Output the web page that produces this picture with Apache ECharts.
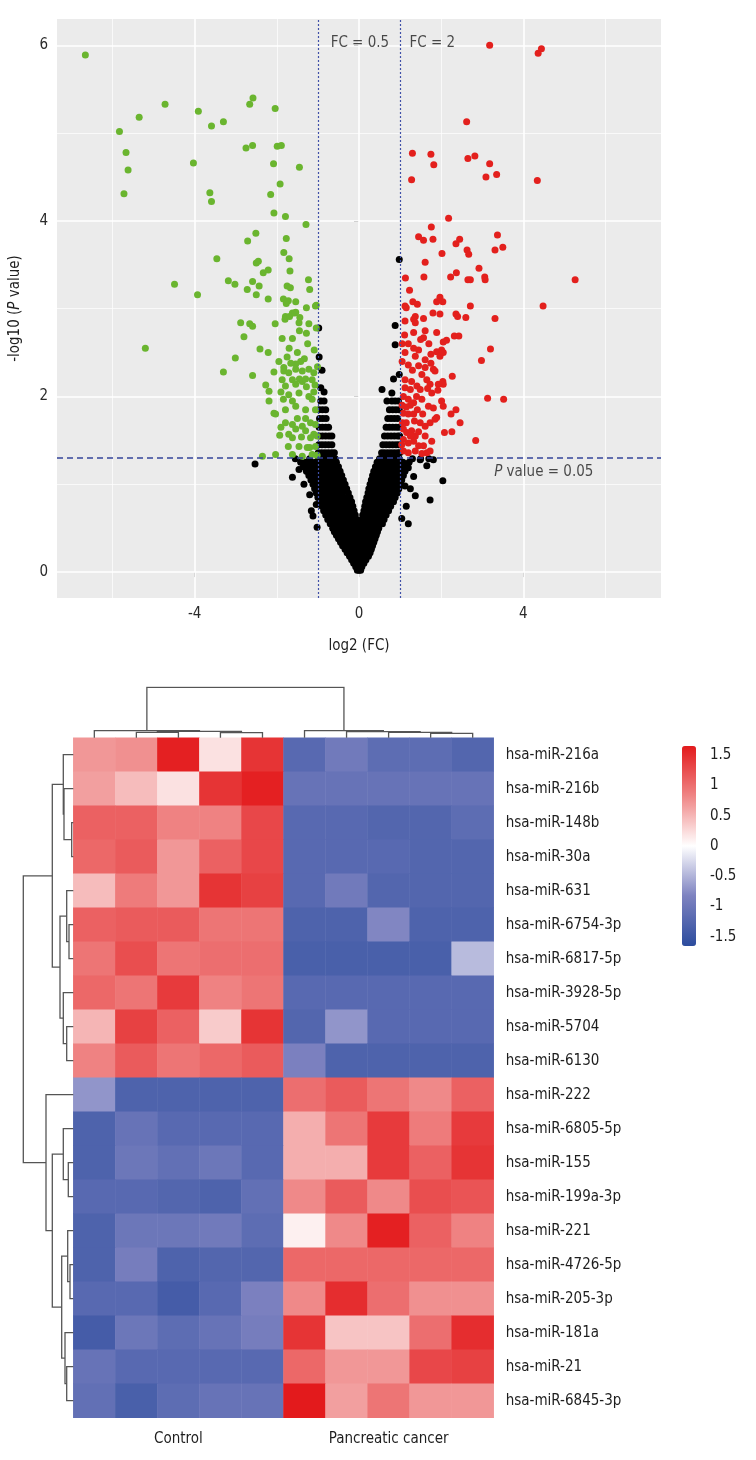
<!DOCTYPE html>
<html>
<head>
<meta charset="utf-8">
<script src="https://cdn.jsdelivr.net/npm/echarts@6/dist/echarts.min.js"></script>
<style>html,body{margin:0;padding:0;background:#fff}#c{width:756px;height:1460px}</style>
</head>
<body>
<div id="c"></div>
<script>
// ---------------- DATA ----------------
// Volcano plot: [log2(FC), -log10(P)]
const downPoints = [[-6.66,5.89],[-4.72,5.33],[-5.35,5.18],[-5.83,5.02],[-5.67,4.78],[-5.62,4.58],[-5.72,4.31],[-3.91,5.25],[-3.59,5.08],[-3.30,5.13],[-2.58,5.40],[-2.66,5.33],[-2.04,5.28],[-4.03,4.66],[-2.75,4.83],[-2.59,4.86],[-1.99,4.85],[-1.89,4.86],[-2.08,4.65],[-1.45,4.61],[-1.92,4.42],[-3.63,4.32],[-3.59,4.22],[-2.15,4.30],[-2.07,4.09],[-1.79,4.05],[-1.29,3.96],[-2.51,3.86],[-2.71,3.77],[-1.77,3.80],[-3.46,3.57],[-1.83,3.64],[-1.70,3.57],[-2.50,3.52],[-2.45,3.54],[-1.68,3.43],[-2.33,3.41],[-2.21,3.44],[-4.49,3.28],[-3.18,3.32],[-3.02,3.28],[-2.59,3.31],[-2.72,3.22],[-2.43,3.26],[-1.75,3.26],[-1.67,3.24],[-1.23,3.33],[-1.20,3.22],[-2.50,3.16],[-3.93,3.16],[-2.21,3.11],[-1.84,3.11],[-1.72,3.09],[-1.77,3.06],[-1.54,3.08],[-1.28,3.01],[-1.04,3.04],[-1.62,2.95],[-1.54,2.96],[-1.79,2.91],[-1.44,2.90],
[-2.88,2.84],[-2.66,2.83],[-2.59,2.80],[-2.04,2.83],[-1.80,2.88],[-1.69,2.91],[-1.56,2.95],[-1.46,2.84],[-1.22,2.83],[-1.06,3.03],[-1.04,2.78],[-2.80,2.68],[-1.87,2.66],[-1.62,2.66],[-1.28,2.72],[-5.20,2.55],[-2.41,2.54],[-2.21,2.50],[-1.09,2.53],[-3.01,2.44],[-1.33,2.43],[-1.42,2.40],[-1.54,2.37],[-3.30,2.28],[-2.59,2.24],[-2.07,2.28],[-1.83,2.33],[-1.66,2.38],[-1.83,2.29],[-1.71,2.27],[-1.54,2.31],[-1.38,2.29],[-1.22,2.31],[-1.10,2.27],[-1.01,2.34],[-1.87,2.19],[-1.62,2.19],[-1.38,2.17],[-1.14,2.19],[-2.27,2.13],[-2.19,2.06],[-1.79,2.12],[-1.54,2.14],[-1.28,2.11],[-1.07,2.13],[-1.71,2.02],[-1.46,2.04],[-1.22,2.00],[-2.19,1.95],[-1.84,1.97],[-1.62,1.95],[-1.14,1.97],[-2.07,1.81],[-1.79,1.85],[-1.54,1.89],[-1.30,1.85],[-1.06,1.85],[-2.03,1.80],[-1.79,1.70],[-1.62,1.68],[-1.38,1.66],[-1.06,1.68],[-1.18,1.70],[-1.93,1.56],[-1.71,1.57],[-1.54,1.63],[-1.30,1.61],[-1.10,1.57],[-1.62,1.53],[-1.40,1.54],[-1.18,1.53],[-1.02,1.55],[-1.72,1.43],[-1.46,1.43],[-1.26,1.42],[-1.06,1.43],[-2.35,1.32],[-2.03,1.34],[-1.62,1.34],[-1.38,1.32],[-1.14,1.34],[-1.02,1.33],
[-1.50,2.50],[-1.70,2.55],[-1.95,2.40],[-1.25,2.60],[-1.45,2.75],[-1.90,2.05],[-1.50,1.75],[-1.30,1.75],[-1.20,1.42],[-1.90,1.65],[-1.45,2.20],[-1.75,2.45],[-1.10,2.05],[-1.30,2.20]];

const upPoints = [[3.18,6.00],[4.44,5.96],[4.36,5.91],[2.62,5.13],[1.30,4.77],[1.75,4.76],[1.82,4.64],[1.28,4.47],[2.65,4.71],[2.82,4.74],[3.18,4.65],[3.09,4.50],[3.35,4.53],[4.34,4.46],[2.18,4.03],[1.76,3.93],[1.45,3.82],[1.57,3.78],[1.80,3.79],[2.45,3.79],[2.36,3.74],[3.37,3.84],[3.50,3.70],[3.31,3.67],[2.63,3.67],[2.67,3.62],[2.02,3.63],[1.61,3.53],[2.92,3.46],[1.13,3.35],[1.58,3.36],[2.23,3.36],[2.37,3.41],[2.65,3.33],[2.71,3.33],[3.06,3.36],[3.07,3.33],[5.26,3.33],[1.23,3.21],[1.31,3.08],[1.42,3.05],[1.89,3.08],[1.97,3.13],[2.04,3.08],[1.12,3.03],[1.15,3.01],[2.71,3.03],[4.48,3.03],[1.37,2.91],[1.57,2.89],[1.97,2.94],[2.36,2.94],[2.40,2.91],[2.60,2.90],[3.31,2.89],
[1.12,2.86],[1.33,2.88],[1.37,2.84],[1.11,2.70],[1.33,2.73],[1.61,2.75],[1.89,2.73],[1.57,2.67],[2.05,2.62],[2.13,2.64],[2.32,2.69],[2.43,2.69],[1.12,2.50],[1.33,2.55],[1.45,2.53],[1.37,2.46],[1.75,2.48],[1.89,2.51],[2.01,2.53],[1.97,2.46],[2.05,2.50],[3.20,2.54],[2.98,2.41],[1.20,2.36],[1.61,2.42],[1.75,2.38],[1.81,2.31],[1.61,2.33],[2.27,2.23],[2.04,2.17],[1.93,2.14],[2.05,2.14],[1.12,2.19],[1.28,2.17],[1.41,2.12],[1.53,2.25],[1.65,2.19],[1.73,2.14],[1.85,2.29],[1.12,2.10],[1.25,2.08],[1.49,2.08],[1.67,2.09],[1.77,2.04],[1.92,2.07],[3.13,1.98],[3.52,1.97],[1.08,2.00],[1.20,1.97],[1.33,1.93],[1.53,1.97],[1.69,1.89],[1.81,1.87],[2.01,1.95],[2.05,1.89],[2.36,1.85],[2.24,1.80],[2.46,1.70],[1.89,1.76],[1.08,1.81],[1.20,1.80],[1.33,1.80],[1.49,1.70],[1.61,1.66],[1.73,1.70],[1.85,1.74],[2.08,1.59],[2.26,1.60],[2.84,1.50],[1.08,1.63],[1.16,1.59],[1.28,1.61],[1.37,1.55],[1.61,1.55],[1.08,1.51],[1.20,1.47],[1.33,1.49],[1.45,1.44],[1.57,1.44],[1.77,1.49],[1.65,1.36],[1.73,1.38],[1.08,1.38],[1.20,1.36],[1.37,1.38],[1.53,1.35],
[1.05,2.40],[1.05,2.60],[1.06,1.70],[1.05,1.90],[1.04,1.45],[1.15,1.70],[1.25,1.90],[1.40,2.00],[1.30,2.30],[1.45,2.35],[1.25,1.55],[1.45,1.60],[1.55,1.80],[1.20,2.60],[1.50,2.65],[1.70,2.60],[1.80,2.95],[1.35,1.72],[1.15,1.88],[1.42,1.85]];

// Non-significant points, listed row by row: [-log10(P), [log2(FC) values...]]
const nsRows = [
  [0.02, [-0.04, 0, 0.04]],
  [0.06, [-0.08, -0.03, 0.02, 0.07]],
  [0.10, [-0.13, -0.08, -0.03, 0.02, 0.07, 0.12]],
  [0.14, [-0.18, -0.12, -0.06, 0, 0.06, 0.12, 0.17]],
  [0.18, [-0.23, -0.17, -0.11, -0.05, 0.01, 0.07, 0.13, 0.19, 0.23]],
  [0.22, [-0.29, -0.22, -0.15, -0.08, -0.01, 0.06, 0.13, 0.20, 0.27]],
  [0.26, [-0.34, -0.27, -0.20, -0.13, -0.06, 0.01, 0.08, 0.15, 0.22, 0.30]],
  [0.30, [-0.40, -0.32, -0.24, -0.16, -0.08, 0, 0.08, 0.16, 0.24, 0.33]],
  [0.34, [-0.45, -0.37, -0.29, -0.21, -0.13, -0.05, 0.03, 0.11, 0.19, 0.27, 0.36]],
  [0.38, [-0.50, -0.42, -0.34, -0.26, -0.18, -0.10, -0.02, 0.06, 0.14, 0.22, 0.30, 0.39]],
  [0.42, [-0.55, -0.47, -0.39, -0.31, -0.23, -0.15, -0.07, 0.01, 0.09, 0.17, 0.25, 0.33, 0.42]],
  [0.46, [-0.60, -0.52, -0.44, -0.36, -0.28, -0.20, -0.12, -0.04, 0.04, 0.12, 0.20, 0.28, 0.36, 0.45]],
  [0.50, [-0.64, -0.56, -0.48, -0.40, -0.32, -0.24, -0.16, -0.08, 0, 0.08, 0.16, 0.24, 0.32, 0.40, 0.48]],
  [0.55, [-0.70, -0.61, -0.52, -0.43, -0.34, -0.25, -0.16, -0.07, 0.05, 0.14, 0.23, 0.32, 0.41, 0.50, 0.57]],
  [0.60, [-0.76, -0.67, -0.58, -0.49, -0.40, -0.31, -0.22, -0.13, -0.06, 0.07, 0.16, 0.25, 0.34, 0.43, 0.52, 0.61]],
  [0.65, [-0.81, -0.72, -0.63, -0.54, -0.45, -0.36, -0.27, -0.18, -0.09, 0.09, 0.18, 0.27, 0.36, 0.45, 0.54, 0.63, 0.66]],
  [0.70, [-0.86, -0.77, -0.68, -0.59, -0.50, -0.41, -0.32, -0.23, -0.12, 0.12, 0.21, 0.30, 0.39, 0.48, 0.57, 0.66, 0.72]],
  [0.75, [-0.90, -0.81, -0.72, -0.63, -0.54, -0.45, -0.36, -0.27, -0.15, 0.14, 0.23, 0.32, 0.41, 0.50, 0.59, 0.68, 0.77]],
  [0.80, [-0.95, -0.86, -0.77, -0.68, -0.59, -0.50, -0.41, -0.32, -0.18, 0.16, 0.25, 0.34, 0.43, 0.52, 0.61, 0.70, 0.79, 0.84]],
  [0.85, [-1.00, -0.91, -0.82, -0.73, -0.64, -0.55, -0.46, -0.37, -0.22, 0.19, 0.28, 0.37, 0.46, 0.55, 0.64, 0.73, 0.82, 0.88]],
  [0.90, [-1.04, -0.95, -0.86, -0.77, -0.68, -0.59, -0.50, -0.40, -0.26, 0.22, 0.31, 0.40, 0.49, 0.58, 0.67, 0.76, 0.85, 0.93]],
  [0.95, [-1.08, -0.99, -0.90, -0.81, -0.72, -0.63, -0.54, -0.44, -0.30, 0.24, 0.33, 0.42, 0.51, 0.60, 0.69, 0.78, 0.87, 0.97]],
  [1.00, [-1.12, -1.03, -0.94, -0.85, -0.76, -0.67, -0.58, -0.48, -0.34, 0.27, 0.36, 0.45, 0.54, 0.63, 0.72, 0.81, 0.90, 1.00]],
  [1.05, [-1.17, -1.08, -0.99, -0.90, -0.81, -0.72, -0.63, -0.52, -0.38, 0.30, 0.39, 0.48, 0.57, 0.66, 0.75, 0.84, 0.93, 1.04]],
  [1.10, [-1.22, -1.13, -1.04, -0.95, -0.86, -0.77, -0.68, -0.56, -0.42, 0.33, 0.42, 0.51, 0.60, 0.69, 0.78, 0.87, 0.96, 1.08]],
  [1.15, [-1.28, -1.18, -1.08, -0.99, -0.90, -0.81, -0.72, -0.60, -0.46, 0.36, 0.45, 0.54, 0.63, 0.72, 0.81, 0.90, 0.99, 1.12]],
  [1.20, [-1.35, -1.24, -1.13, -1.03, -0.94, -0.85, -0.76, -0.64, -0.50, 0.40, 0.49, 0.58, 0.67, 0.76, 0.85, 0.94, 1.03, 1.16]],
  [1.25, [-1.42, -1.30, -1.18, -1.07, -0.98, -0.89, -0.80, -0.68, -0.55, 0.44, 0.53, 0.62, 0.71, 0.80, 0.89, 0.98, 1.07, 1.22]],
  [1.29, [-1.55, -1.20, -0.98, -0.90, -0.82, -0.74, -0.66, -0.58, 0.50, 0.58, 0.66, 0.74, 0.82, 0.90, 0.98, 1.30, 1.50, 1.70]],
  [1.36, [-0.99, -0.91, -0.83, -0.75, -0.67, -0.60, 0.55, 0.62, 0.70, 0.78, 0.86, 0.94, 0.99]],
  [1.45, [-0.98, -0.90, -0.82, -0.74, -0.66, 0.58, 0.66, 0.74, 0.82, 0.90, 0.97]],
  [1.55, [-0.97, -0.89, -0.81, -0.73, -0.66, 0.62, 0.70, 0.78, 0.86, 0.94, 0.99]],
  [1.65, [-0.97, -0.89, -0.81, -0.74, 0.66, 0.74, 0.82, 0.90, 0.97]],
  [1.75, [-0.96, -0.88, -0.80, 0.70, 0.78, 0.86, 0.94]],
  [1.85, [-0.97, -0.89, -0.81, 0.74, 0.82, 0.90, 0.98]],
  [1.95, [-0.93, -0.85, 0.68, 0.80, 0.88, 0.96]]
];
const nsScattered = [[0.56,2.08],[0.80,2.04],[0.84,2.20],[0.98,2.25],[0.88,2.59],[0.88,2.81],[0.98,3.56],
[-0.98,2.78],[-0.93,2.10],[-0.90,2.30],[-0.85,2.05],[-0.97,2.45],
[-2.53,1.23],[-1.62,1.08],[-1.46,1.17],[-1.34,1.00],[-1.22,1.13],[-1.12,0.64],[-1.16,0.70],[-1.04,0.77],[-1.02,0.51],[-1.20,0.88],[-1.35,1.20],
[1.20,0.55],[1.04,0.61],[1.37,0.87],[1.73,0.82],[2.04,1.04],[1.12,0.98],[1.33,1.09],[1.20,1.19],[1.49,1.28],[1.65,1.21],[1.81,1.28],[1.15,0.75],[1.25,0.95]];

const volcanoXTicks = [-4, 0, 4];
const volcanoXMinor = [-6, -2, 2, 6];
const volcanoYTicks = [0, 2, 4, 6];
const volcanoYMinor = [1, 3, 5];
const fcCutoffs = [-1, 1];        // log2(0.5), log2(2)
const pCutoff = 1.301;            // -log10(0.05)
const annotations = [
  {value: [-0.69, 6.02], text: 'FC = 0.5'},
  {value: [1.23, 6.02], text: 'FC = 2'},
  {value: [3.29, 1.14], text: '{i|P} value = 0.05'}
];

// Heatmap
const samples = ['C1','C2','C3','C4','C5','P1','P2','P3','P4','P5'];
const groups = ['Control', 'Pancreatic cancer'];
const genes = ['hsa-miR-216a','hsa-miR-216b','hsa-miR-148b','hsa-miR-30a','hsa-miR-631','hsa-miR-6754-3p','hsa-miR-6817-5p','hsa-miR-3928-5p','hsa-miR-5704','hsa-miR-6130','hsa-miR-222','hsa-miR-6805-5p','hsa-miR-155','hsa-miR-199a-3p','hsa-miR-221','hsa-miR-4726-5p','hsa-miR-205-3p','hsa-miR-181a','hsa-miR-21','hsa-miR-6845-3p'];
const heatValues = [
  [0.70, 0.75, 1.60, 0.20, 1.45, -1.20, -0.95, -1.15, -1.15, -1.25],
  [0.65, 0.45, 0.20, 1.45, 1.60, -1.05, -1.05, -1.05, -1.05, -1.05],
  [1.10, 1.10, 0.85, 0.85, 1.30, -1.20, -1.20, -1.25, -1.25, -1.15],
  [1.05, 1.15, 0.70, 1.10, 1.30, -1.20, -1.20, -1.20, -1.25, -1.25],
  [0.45, 0.90, 0.70, 1.45, 1.35, -1.20, -0.95, -1.25, -1.25, -1.25],
  [1.10, 1.15, 1.15, 0.95, 0.95, -1.30, -1.30, -0.80, -1.30, -1.30],
  [0.95, 1.25, 0.95, 1.00, 1.00, -1.35, -1.35, -1.35, -1.35, -0.45],
  [1.05, 0.95, 1.40, 0.85, 0.95, -1.20, -1.20, -1.20, -1.20, -1.20],
  [0.50, 1.35, 1.10, 0.35, 1.45, -1.25, -0.70, -1.20, -1.20, -1.20],
  [0.85, 1.15, 0.95, 1.05, 1.15, -0.85, -1.30, -1.30, -1.30, -1.30],
  [-0.70, -1.30, -1.30, -1.30, -1.30, 1.00, 1.15, 0.95, 0.80, 1.10],
  [-1.30, -1.05, -1.20, -1.20, -1.20, 0.55, 0.95, 1.40, 0.90, 1.40],
  [-1.30, -1.00, -1.10, -1.00, -1.20, 0.55, 0.55, 1.40, 1.10, 1.45],
  [-1.20, -1.20, -1.25, -1.30, -1.10, 0.80, 1.15, 0.80, 1.25, 1.20],
  [-1.30, -1.00, -1.00, -0.95, -1.15, 0.10, 0.80, 1.60, 1.10, 0.85],
  [-1.30, -0.90, -1.30, -1.25, -1.25, 1.05, 1.05, 1.05, 1.05, 1.05],
  [-1.20, -1.20, -1.40, -1.20, -0.85, 0.80, 1.50, 1.00, 0.75, 0.75],
  [-1.40, -1.00, -1.15, -1.05, -0.90, 1.45, 0.40, 0.40, 1.00, 1.50],
  [-1.05, -1.20, -1.20, -1.20, -1.20, 1.05, 0.70, 0.70, 1.30, 1.35],
  [-1.10, -1.35, -1.15, -1.05, -1.05, 1.65, 0.65, 0.95, 0.70, 0.70]
];
const colorTicks = [-1.5, -1, -0.5, 0, 0.5, 1, 1.5];
const colorRange = [-1.65, 1.65];

// Dendrograms: [childA, childB, height]; numbers = leaf index, 'mK' = merge K
const colMerges = [[1,2,5.4],[3,4,5.0],['m0','m1',6.4],[0,'m2',7.0],[8,9,4.3],[7,'m4',5.3],[6,'m5',6.0],[5,'m6',7.0],['m3','m7',50.4]];
const rowMerges = [[2,3,1.6],[1,'m0',9.3],[0,'m1',10],[5,6,4.3],[4,'m3',6.6],[8,9,6.6],[7,'m5',10],['m4','m6',13.3],['m2','m7',21],
  [12,13,5],[11,'m9',10],[15,16,3.3],[14,'m11',5.6],[18,19,6.6],[17,'m13',8.3],['m12','m14',11.6],['m10','m15',21],[10,'m16',27.3],['m8','m17',50]];

// ---------------- BUILD ----------------
const FONT = "'DejaVu Sans Condensed', 'DejaVu Sans', sans-serif";
function dendroLines(merges, vertical) {
  const pos = [], ht = [], out = [];
  const ref = r => typeof r === 'number' ? {p: r, h: 0} : {p: pos[+r.slice(1)], h: ht[+r.slice(1)]};
  merges.forEach((m, i) => {
    const a = ref(m[0]), b = ref(m[1]), h = m[2];
    pos[i] = (a.p + b.p) / 2; ht[i] = h;
    const pts = [[a.p, a.h], [a.p, h], [b.p, h], [b.p, b.h]];
    out.push({coords: vertical ? pts : pts.map(q => [q[1], q[0]])});
  });
  return out;
}
const nsPoints = [];
nsRows.forEach(([y, xs]) => xs.forEach(x => nsPoints.push([x, y])));
nsScattered.forEach(p => nsPoints.push(p));

const heatData = [];
heatValues.forEach((row, r) => row.forEach((v, c) => heatData.push([c, r, v])));

const gridLineData = [
  ...volcanoXMinor.map(v => ({xAxis: v, lineStyle: {width: 0.7}})),
  ...volcanoYMinor.map(v => ({yAxis: v, lineStyle: {width: 0.7}})),
  ...volcanoXTicks.map(v => ({xAxis: v, lineStyle: {width: 1.6}})),
  ...volcanoYTicks.map(v => ({yAxis: v, lineStyle: {width: 1.6}}))
];

const txt = {fontFamily: FONT, color: '#1e1e1e', fontSize: 15};
const chart = echarts.init(document.getElementById('c'), null, {renderer: 'canvas'});
const option = {
  animation: false,
  backgroundColor: '#fff',
  textStyle: {fontFamily: FONT},
  grid: [
    {left: 55, top: 19, width: 606, height: 579, show: true, backgroundColor: '#EBEBEB', borderWidth: 0},
    {left: 73.3, top: 737.7, width: 420.4, height: 680},
    {left: 73.3, top: 687, width: 420.4, height: 50.7},
    {left: 23.3, top: 737.7, width: 50, height: 680},
    {left: 682, top: 746, width: 14, height: 200}
  ],
  xAxis: [
    {gridIndex: 0, type: 'value', min: -7.35, max: 7.35, splitLine: {show: false},
     axisLine: {show: false}, axisTick: {show: true, length: 5, customValues: volcanoXTicks, lineStyle: {color: '#444'}},
     axisLabel: {customValues: volcanoXTicks, ...txt, color: '#2a2a2a', margin: 9},
     name: 'log2 (FC)', nameLocation: 'middle', nameGap: 41, nameTextStyle: {...txt}},
    {gridIndex: 1, type: 'category', data: samples, show: false},
    {gridIndex: 1, type: 'category', data: groups, position: 'bottom', axisLine: {show: false}, axisTick: {show: false},
     axisLabel: {...txt, margin: 14}},
    {gridIndex: 2, type: 'value', min: -0.5, max: 9.5, show: false},
    {gridIndex: 3, type: 'value', min: 0, max: 50, inverse: true, show: false},
    {gridIndex: 4, type: 'value', show: false}
  ],
  yAxis: [
    {gridIndex: 0, type: 'value', min: -0.295, max: 6.3, splitLine: {show: false},
     axisLine: {show: false}, axisTick: {show: true, length: 5, customValues: volcanoYTicks, lineStyle: {color: '#444'}},
     axisLabel: {customValues: volcanoYTicks, ...txt, color: '#2a2a2a', margin: 9},
     name: '-log10 ({i|P} value)', nameLocation: 'middle', nameGap: 34, nameRotate: 90,
     nameTextStyle: {...txt, rich: {i: {...txt, fontStyle: 'italic'}}}},
    {gridIndex: 1, type: 'category', data: genes, inverse: true, position: 'right',
     axisLine: {show: false}, axisTick: {show: false}, axisLabel: {...txt, margin: 12}},
    {gridIndex: 2, type: 'value', min: 0, max: 50.7, show: false},
    {gridIndex: 3, type: 'value', min: -0.5, max: 19.5, inverse: true, show: false},
    {gridIndex: 4, type: 'value', min: colorRange[0], max: colorRange[1], position: 'right',
     axisLine: {show: false}, axisTick: {show: false}, splitLine: {show: false},
     axisLabel: {customValues: colorTicks, ...txt, margin: 14}}
  ],
  visualMap: {
    type: 'continuous', min: colorRange[0], max: colorRange[1], seriesIndex: 5,
    left: 682, top: 746, itemWidth: 14, itemHeight: 200, padding: 0, calculable: false,
    showLabel: false, text: ['', ''],
    inRange: {color: ['#2C4C9E', '#7D82C0', '#FFFFFF', '#EF8585', '#E31A1C']}
  },
  series: [
    {type: 'scatter', xAxisIndex: 0, yAxisIndex: 0, data: [], silent: true, z: 1,
     markLine: {silent: true, symbol: 'none', z: 1, label: {show: false}, lineStyle: {color: '#fff', type: 'solid'}, data: gridLineData}},
    {type: 'scatter', xAxisIndex: 0, yAxisIndex: 0, data: nsPoints, symbolSize: 7, itemStyle: {color: '#000', opacity: 1}, z: 2},
    {type: 'scatter', xAxisIndex: 0, yAxisIndex: 0, data: downPoints, symbolSize: 7, itemStyle: {color: '#6AB52F', opacity: 1}, z: 2},
    {type: 'scatter', xAxisIndex: 0, yAxisIndex: 0, data: upPoints, symbolSize: 7, itemStyle: {color: '#E3201D', opacity: 1}, z: 2},
    {type: 'scatter', xAxisIndex: 0, yAxisIndex: 0, data: [], silent: true, z: 3,
     markLine: {silent: true, symbol: 'none', z: 6, label: {show: false},
       data: [
         ...fcCutoffs.map(v => ({xAxis: v, lineStyle: {color: '#4050A8', width: 1.2, type: [2, 2]}})),
         {yAxis: pCutoff, lineStyle: {color: '#34449A', width: 1.5, type: [6, 4]}}
       ]}},
    {type: 'heatmap', xAxisIndex: 1, yAxisIndex: 1, data: heatData, itemStyle: {borderWidth: 0}},
    {type: 'lines', coordinateSystem: 'cartesian2d', xAxisIndex: 3, yAxisIndex: 2, polyline: true, silent: true,
     data: dendroLines(colMerges, true), lineStyle: {color: '#555', width: 1.3, opacity: 1}},
    {type: 'lines', coordinateSystem: 'cartesian2d', xAxisIndex: 4, yAxisIndex: 3, polyline: true, silent: true,
     data: dendroLines(rowMerges, false), lineStyle: {color: '#555', width: 1.3, opacity: 1}},
    {type: 'scatter', xAxisIndex: 0, yAxisIndex: 0, symbolSize: 0, silent: true, z: 7,
     data: annotations.map(a => ({value: a.value, label: {formatter: a.text}})),
     label: {show: true, position: 'right', distance: 0, ...txt, rich: {i: {...txt, fontStyle: 'italic'}}}}
  ]
};
chart.setOption(option);
</script>
</body>
</html>
